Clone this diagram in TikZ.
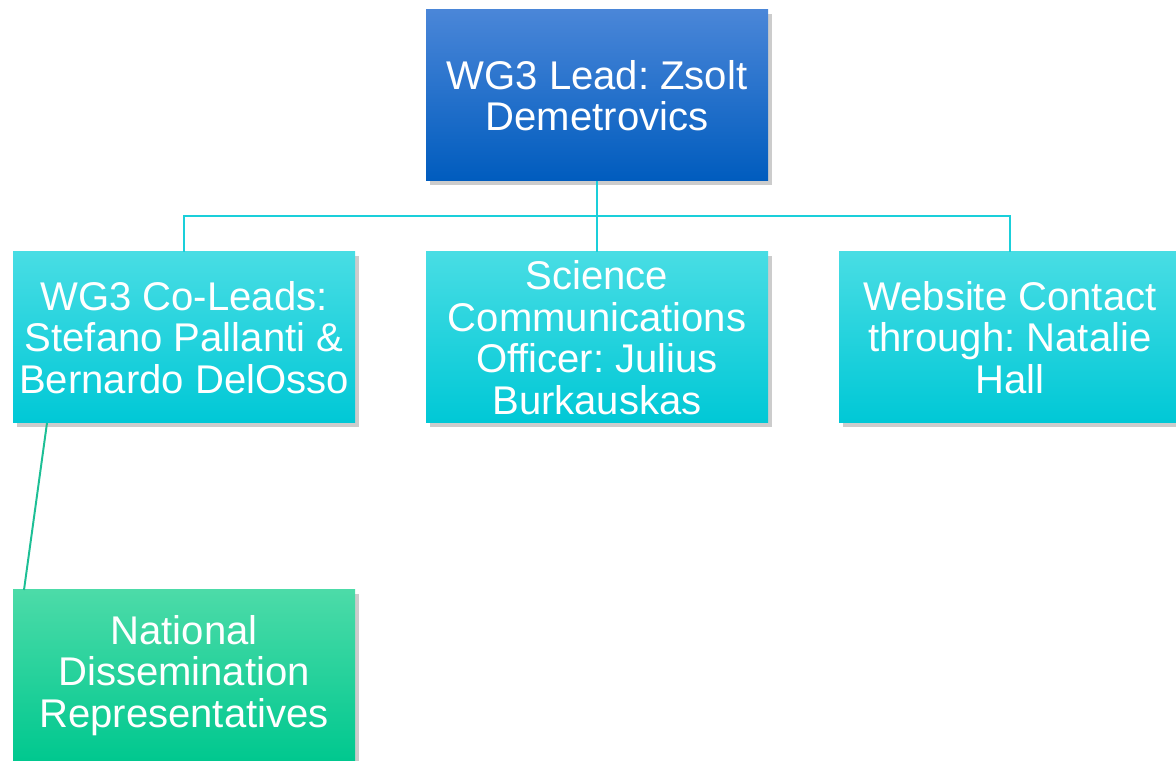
\documentclass[tikz,border=0pt]{standalone}
\usepackage{fontspec}
\setmainfont{Liberation Sans}
\usetikzlibrary{positioning}
\usetikzlibrary{shadows}
\frenchspacing

\definecolor{leadtop}{HTML}{4A86D8}
\definecolor{leadbot}{HTML}{005CBE}
\definecolor{teamtop}{HTML}{48DDE4}
\definecolor{teambot}{HTML}{00C8D6}
\definecolor{reptop}{HTML}{4CDBA8}
\definecolor{repbot}{HTML}{00C88F}
\definecolor{busline}{HTML}{1ACFDA}
\definecolor{repline}{HTML}{1DBF95}

\tikzset{
  orgbox/.style={draw=none, minimum width=8.55cm, minimum height=4.275cm,
    inner sep=0pt, outer sep=0pt, align=center, text=white,
    font=\fontsize{28.5}{29.5}\selectfont,
    drop shadow={opacity=0.4, shadow xshift=2.5pt, shadow yshift=-2.5pt}},
  leadbox/.style={orgbox, top color=leadtop, bottom color=leadbot},
  teambox/.style={orgbox, top color=teamtop, bottom color=teambot},
  repbox/.style={orgbox, top color=reptop, bottom color=repbot},
}

\begin{document}
\begin{tikzpicture}[node distance=1.775cm]
    \useasboundingbox (0,0) rectangle (29.4,19.025);

    \node[leadbox] (lead) at (14.925,16.6375) {WG3 Lead: Zsolt\\Demetrovics};

    \node[teambox] (scicomm) [below=of lead] {Science\\Communications\\Officer: Julius\\Burkauskas};
    \node[teambox] (colead) [left=of scicomm] {WG3 Co-Leads:\\Stefano Pallanti \&\\Bernardo DelOsso};
    \node[teambox] (website) [right=of scicomm] {Website Contact\\through: Natalie\\Hall};

    \node[repbox] (natrep) [below=4.175cm of colead] {National\\Dissemination\\Representatives};

    % lead to the three team boxes
    \draw[busline, line width=1.8pt] (lead.south) -- (scicomm.north);
    \draw[busline, line width=1.8pt] (lead.south) -- ++(0,-0.875) -| (colead.north);
    \draw[busline, line width=1.8pt] (lead.south) -- ++(0,-0.875) -| (website.north);

    % co-leads to representatives
    \draw[repline, line width=1.4pt] ([xshift=0.85cm]colead.south west) -- ([xshift=0.275cm]natrep.north west);
\end{tikzpicture}
\end{document}
